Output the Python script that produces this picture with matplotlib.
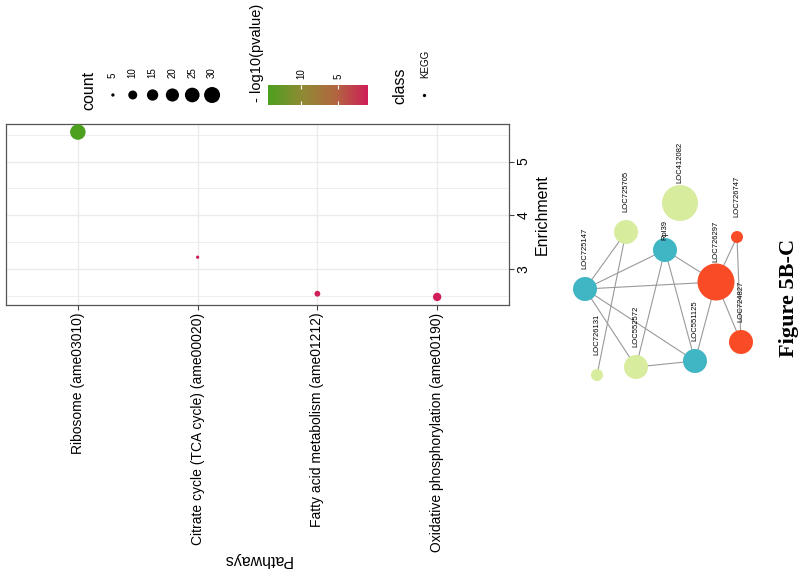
import numpy as np
import matplotlib
matplotlib.use("Agg")
import matplotlib.pyplot as plt
from matplotlib.colors import LinearSegmentedColormap, Normalize
from matplotlib.patches import Circle

plt.rcParams['font.family'] = ['Liberation Sans', 'DejaVu Sans']

# ---- enrichment dot plot data ----
pathways = ["Ribosome (ame03010)",
            "Citrate cycle (TCA cycle) (ame00020)",
            "Fatty acid metabolism (ame01212)",
            "Oxidative phosphorylation (ame00190)"]
enrichment = [5.55, 3.22, 2.54, 2.48]
counts = [28, 5, 6, 9]
neglog_p = [14.5, 1.2, 1.1, 0.95]

legend_counts = [5, 10, 15, 20, 25, 30]
cbar_ticks = [10, 5]

# ---- network data (layout coordinates) ----
nodes = ["LOC725147", "LOC725705", "LOC412082", "Rpl39", "LOC726297",
         "LOC726747", "LOC724827", "LOC551125", "LOC552572", "LOC726131"]
node_x = [25, 66, 120, 105, 156, 177, 181, 135, 76, 37]
node_y = [159, 102, 73, 120, 152, 107, 212, 231, 237, 245]
node_size = [12, 12, 18, 12, 18.5, 6, 12, 12, 12, 6]
node_module = ["b", "a", "a", "b", "c", "c", "c", "b", "a", "a"]
edges = [("LOC725147", "LOC725705"), ("LOC725147", "Rpl39"),
         ("LOC725147", "LOC726297"), ("LOC725147", "LOC552572"),
         ("LOC725147", "LOC551125"), ("LOC725705", "LOC726131"),
         ("Rpl39", "LOC726297"), ("Rpl39", "LOC552572"),
         ("Rpl39", "LOC551125"), ("LOC552572", "LOC551125"),
         ("LOC551125", "LOC726297"), ("LOC726297", "LOC726747"),
         ("LOC726297", "LOC724827"), ("LOC726747", "LOC724827")]

module_colors = {"a": "#D8EC9E", "b": "#40B5C3", "c": "#F94C26"}

W, H = 800, 586


def fig_box(x0, y0, x1, y1):
    # pixel box -> figure fraction rect
    return [x0 / W, 1 - y1 / H, (x1 - x0) / W, (y1 - y0) / H]


def dot_area(c):
    c = np.asarray(c, dtype=float)
    d_px = 3.3 + 12.7 * np.sqrt(np.clip(c - 5, 0, None) / 25)
    return (d_px * 0.72) ** 2


cmap = LinearSegmentedColormap.from_list(
    "pv", ["#CF1E58", "#B0683F", "#8E8A33", "#4BA01E"])
norm = Normalize(vmin=min(neglog_p), vmax=max(neglog_p))

fig = plt.figure(figsize=(8, 5.86), dpi=100)

# ---- main panel ----
ax = fig.add_axes(fig_box(6, 124, 509, 305))
xpos = np.arange(1, len(pathways) + 1)
ax.scatter(xpos, enrichment, s=dot_area(counts), c=neglog_p, cmap=cmap,
           norm=norm, linewidths=0, zorder=3)
ax.set_xlim(0.4, 4.6)
ax.set_ylim(2.33, 5.70)
ax.set_xticks(xpos)
ax.set_xticklabels(pathways, rotation=90, fontsize=10)
ax.set_yticks([3, 4, 5])
ax.set_yticks([2.5, 3.5, 4.5, 5.5], minor=True)
ax.yaxis.tick_right()
ax.yaxis.set_label_position('right')
ax.tick_params(axis='y', labelrotation=90, labelsize=10)
ax.tick_params(which='major', length=3.5, width=0.8, color='#444444', pad=2)
ax.tick_params(which='minor', length=0)
for lab in ax.get_yticklabels():
    lab.set_va('center')
ax.grid(which='major', color='#EBEBEB', lw=1.0)
ax.grid(which='minor', axis='y', color='#EBEBEB', lw=0.6)
ax.set_axisbelow(True)
for sp in ax.spines.values():
    sp.set_color('#555555')
    sp.set_linewidth(0.9)
ax.set_ylabel('Enrichment', fontsize=11.5, labelpad=3)
ax.set_xlabel('Pathways', fontsize=11.5, rotation=180, labelpad=0)

# ---- size legend ----
fig.text(89 / W, 1 - 90 / H, 'count', rotation=90, ha='center', va='center',
         fontsize=11.5)
lax = fig.add_axes(fig_box(103, 85, 222, 105))
lax.scatter(range(len(legend_counts)), [0] * len(legend_counts),
            s=dot_area(legend_counts), color='black', linewidths=0)
for i, c in enumerate(legend_counts):
    lax.text(i, 1.7, str(c), rotation=90, ha='center', va='bottom',
             fontsize=7, clip_on=False)
lax.set_xlim(-0.5, len(legend_counts) - 0.5)
lax.set_ylim(-1, 1)
lax.axis('off')

# ---- colour bar ----
fig.text(257 / W, 1 - 53 / H, '- log10(pvalue)', rotation=90, ha='center',
         va='center', fontsize=10.5)
cax = fig.add_axes(fig_box(268, 85, 368, 105))
sm = plt.cm.ScalarMappable(norm=norm, cmap=cmap)
cb = fig.colorbar(sm, cax=cax, orientation='horizontal')
cb.outline.set_visible(False)
cax.invert_xaxis()
cb.set_ticks(cbar_ticks)
cax.tick_params(direction='in', color='white', length=3, width=0.8,
                top=True, bottom=True, labeltop=True, labelbottom=False,
                labelsize=7, labelrotation=90, pad=4)

# ---- class legend ----
fig.text(400 / W, 1 - 86 / H, 'class', rotation=90, ha='center', va='center',
         fontsize=11.5)
fig.text(425 / W, 1 - 78 / H, 'KEGG', rotation=90, ha='center', va='bottom',
         fontsize=7)
kax = fig.add_axes(fig_box(414, 85, 434, 105))
kax.scatter([0], [0], s=dot_area([5])[0], color='black', linewidths=0)
kax.set_xlim(-1, 1)
kax.set_ylim(-1, 1)
kax.axis('off')

# ---- network ----
nax = fig.add_axes(fig_box(560, 130, 780, 400))
nax.set_xlim(0, 220)
nax.set_ylim(270, 0)
nax.axis('off')
idx = {n: i for i, n in enumerate(nodes)}
for a, b in edges:
    i, j = idx[a], idx[b]
    nax.plot([node_x[i], node_x[j]], [node_y[i], node_y[j]],
             color='#9A9A9A', lw=0.8, zorder=1)
for i, n in enumerate(nodes):
    nax.add_patch(Circle((node_x[i], node_y[i]), node_size[i],
                         color=module_colors[node_module[i]], lw=0, zorder=2))
    off = 10 if n == "Rpl39" else 20
    nax.text(node_x[i], node_y[i] - off, n, rotation=90, ha='center',
             va='bottom', fontsize=5.5, zorder=3)

fig.text(799 / W, 1 - 298 / H, 'Figure 5B-C', rotation=90, ha='right',
         va='center', fontsize=16, fontweight='bold',
         family=['Liberation Serif', 'DejaVu Serif'])

fig.savefig('out.png', dpi=100)
